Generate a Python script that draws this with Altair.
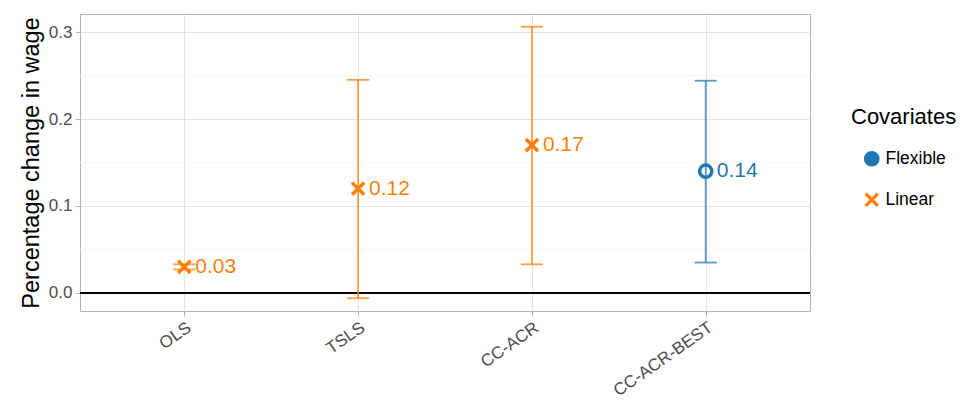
import altair as alt
import pandas as pd

methods = ["OLS", "TSLS", "CC-ACR", "CC-ACR-BEST"]
estimate = [0.03, 0.12, 0.17, 0.14]
lower = [0.027, -0.006, 0.033, 0.035]
upper = [0.033, 0.245, 0.306, 0.244]
covariates = ["Linear", "Linear", "Linear", "Flexible"]
value_labels = ["0.03", "0.12", "0.17", "0.14"]
minor_grid = [0.05, 0.15, 0.25]
major_ticks = [0.0, 0.1, 0.2, 0.3]

df = pd.DataFrame({
    "method": methods,
    "estimate": estimate,
    "lower": lower,
    "upper": upper,
    "Covariates": covariates,
    "label": value_labels,
})
minor_df = pd.DataFrame({"v": minor_grid})

FONT = "Liberation Sans"
cat_order = ["Flexible", "Linear"]
colors = ["#1F77B4", "#FF7F0E"]

x_scale = alt.Scale(type="point", padding=0.6, domain=methods)
y_scale = alt.Scale(domain=[-0.0207, 0.3207], nice=False, zero=False)


def xe():
    return alt.X("method:N", sort=methods, scale=x_scale,
                 axis=alt.Axis(title=None, labelAngle=-35, labelAlign="right",
                               labelBaseline="top"))


def ye(field):
    return alt.Y(field, scale=y_scale,
                 axis=alt.Axis(title="Percentage change in wage", values=major_ticks,
                               format=".1f"))


LEG = alt.Legend(orient="none", legendX=771, legendY=93)


def stroke_e():
    return alt.Stroke("Covariates:N", scale=alt.Scale(domain=cat_order, range=colors),
                      legend=LEG)


def fill_e():
    return alt.Fill("Covariates:N", scale=alt.Scale(domain=cat_order, range=colors),
                    legend=None)


base = alt.Chart(df)

minor = alt.Chart(minor_df).mark_rule(color="#F2F2F2", strokeWidth=0.8).encode(
    y=ye("v:Q")
)

zero = base.mark_rule(color="black", strokeWidth=2).encode(
    y=alt.datum(0, scale=y_scale)
)

points = base.mark_point(filled=False, strokeWidth=3.5, size=150, opacity=1).encode(
    x=xe(), y=ye("estimate:Q"),
    stroke=stroke_e(),
    shape=alt.Shape("Covariates:N",
                    scale=alt.Scale(domain=cat_order,
                                    range=["circle", "M-1,-1L1,1M1,-1L-1,1"]),
                    legend=LEG),
)
bars = base.mark_rule(strokeWidth=1.8, strokeOpacity=0.75).encode(
    x=xe(), y=ye("lower:Q"), y2="upper:Q", stroke=stroke_e(),
)
cap_lo = base.mark_rule(strokeWidth=1.8, strokeOpacity=0.75, xOffset=-11, x2Offset=11).encode(
    x=xe(), x2="method:N", y=ye("lower:Q"), stroke=stroke_e(),
)
cap_hi = base.mark_rule(strokeWidth=1.8, strokeOpacity=0.75, xOffset=-11, x2Offset=11).encode(
    x=xe(), x2="method:N", y=ye("upper:Q"), stroke=stroke_e(),
)
texts = base.mark_text(align="left", baseline="middle", dx=11, fontSize=21, font=FONT).encode(
    x=xe(), y=ye("estimate:Q"), text="label:N", fill=fill_e(),
)

chart = alt.layer(minor, zero, points, bars, cap_lo, cap_hi, texts).properties(
    width=730, height=297,
    autosize=alt.AutoSizeParams(type="none"),
    padding={"left": 72, "top": 6, "right": 156, "bottom": 95},
    background="white",
).configure_view(
    stroke="#B3B3B3", strokeWidth=1
).configure_axis(
    labelFontSize=17, labelColor="#4D4D4D", labelFont=FONT,
    titleFontSize=23.5, titleFont=FONT, titleColor="black", titleFontWeight="normal",
    tickColor="#B3B3B3", tickSize=5, labelPadding=3, titlePadding=5,
    grid=True, gridColor="#E3E3E3", gridWidth=1, domain=False,
).configure_legend(
    titleFontSize=22, titleFont=FONT, titleColor="black", titleFontWeight="normal",
    labelFontSize=17.5, labelFont=FONT, labelColor="black",
    titlePadding=21, rowPadding=14, symbolSize=150, symbolStrokeWidth=3.5,
    symbolOffset=12, labelOffset=5, padding=0, symbolOpacity=1,
    symbolFillColor="transparent",
)

chart.save("out.html", embed_options={"renderer": "svg", "actions": False})
